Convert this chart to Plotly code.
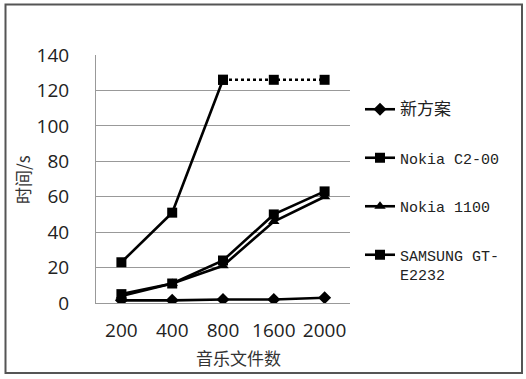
import plotly.graph_objects as go

categories = ["200", "400", "800", "1600", "2000"]
new_scheme = [1.5, 1.5, 2, 2, 3]
nokia_c2 = [23, 51, 126, None, None]
nokia_c2_dotted = [None, None, 126, 126, 126]
nokia_1100 = [4, 11, 21, 46, 60]
samsung = [5, 11, 24, 50, 63]
y_ticks = [0, 20, 40, 60, 80, 100, 120, 140]

W, H = 526, 379
L, R, T, B = 96, 350, 55, 303

def px(x):
    return (x - L) / (R - L)

def py(y):
    return (B - y) / (B - T)

fig = go.Figure()
line = dict(color="black", width=2.6)

fig.add_trace(go.Scatter(x=categories, y=new_scheme, mode="lines+markers", name="<span style='font-size:17px'>新方案</span>",
                         line=line, marker=dict(symbol="diamond", size=10, color="black"), legendgroup="a"))
fig.add_trace(go.Scatter(x=categories, y=nokia_c2, mode="lines+markers", name="Nokia C2-00",
                         line=line, marker=dict(symbol="square", size=10, color="black"), legendgroup="b"))
fig.add_trace(go.Scatter(x=categories, y=nokia_c2_dotted, mode="lines+markers", showlegend=False,
                         line=dict(color="black", width=2.6, dash="dot"),
                         marker=dict(symbol="square", size=10, color="black"), legendgroup="b"))
fig.add_trace(go.Scatter(x=categories, y=nokia_1100, mode="lines+markers", name="Nokia 1100",
                         line=line, marker=dict(symbol="triangle-up", size=10, color="black"), legendgroup="c"))
fig.add_trace(go.Scatter(x=categories, y=samsung, mode="lines+markers", name="SAMSUNG GT-<br>E2232",
                         line=line, marker=dict(symbol="square", size=10, color="black"), legendgroup="d"))

fig.update_layout(
    width=W, height=H,
    margin=dict(l=L, r=W - R, t=T, b=H - B),
    paper_bgcolor="white", plot_bgcolor="white",
    font=dict(family="Open Sans", color="#222"),
    xaxis=dict(type="category", range=[-0.5, 4.5], showgrid=False, showline=True,
               linecolor="#999", linewidth=1, ticks="", tickfont=dict(size=19, color="#222"),
               ticklabelstandoff=10),
    yaxis=dict(range=[0, 140], tickvals=y_ticks, showgrid=True, gridcolor="#999", gridwidth=1,
               showline=True, linecolor="#999", linewidth=1, ticks="", zeroline=False,
               tickfont=dict(size=19, color="#222"), ticklabelstandoff=22),
    legend=dict(x=px(360), y=py(93), xanchor="left", yanchor="top",
                font=dict(family="Liberation Mono, Noto Sans CJK SC", size=15, color="#222"),
                tracegroupgap=26, valign="top", bgcolor="rgba(0,0,0,0)"),
    annotations=[
        dict(text="音乐文件数", xref="paper", yref="paper", x=px(238), y=py(357),
             xanchor="center", yanchor="middle",
             showarrow=False, font=dict(family="Noto Sans CJK SC", size=17, color="#333")),
        dict(text="时间/s", xref="paper", yref="paper", x=px(22), y=py(180), textangle=-90,
             xanchor="center", yanchor="middle",
             showarrow=False, font=dict(family="Noto Sans CJK SC", size=17, color="#333")),
    ],
    shapes=[
        dict(type="rect", xref="paper", yref="paper", x0=px(5.5), x1=px(522), y0=py(4.5), y1=py(373),
             line=dict(color="#555", width=2), layer="below"),
    ],
)

fig.write_html("out.html", config={"displayModeBar": False},
               post_script="document.body.style.margin='0';")
